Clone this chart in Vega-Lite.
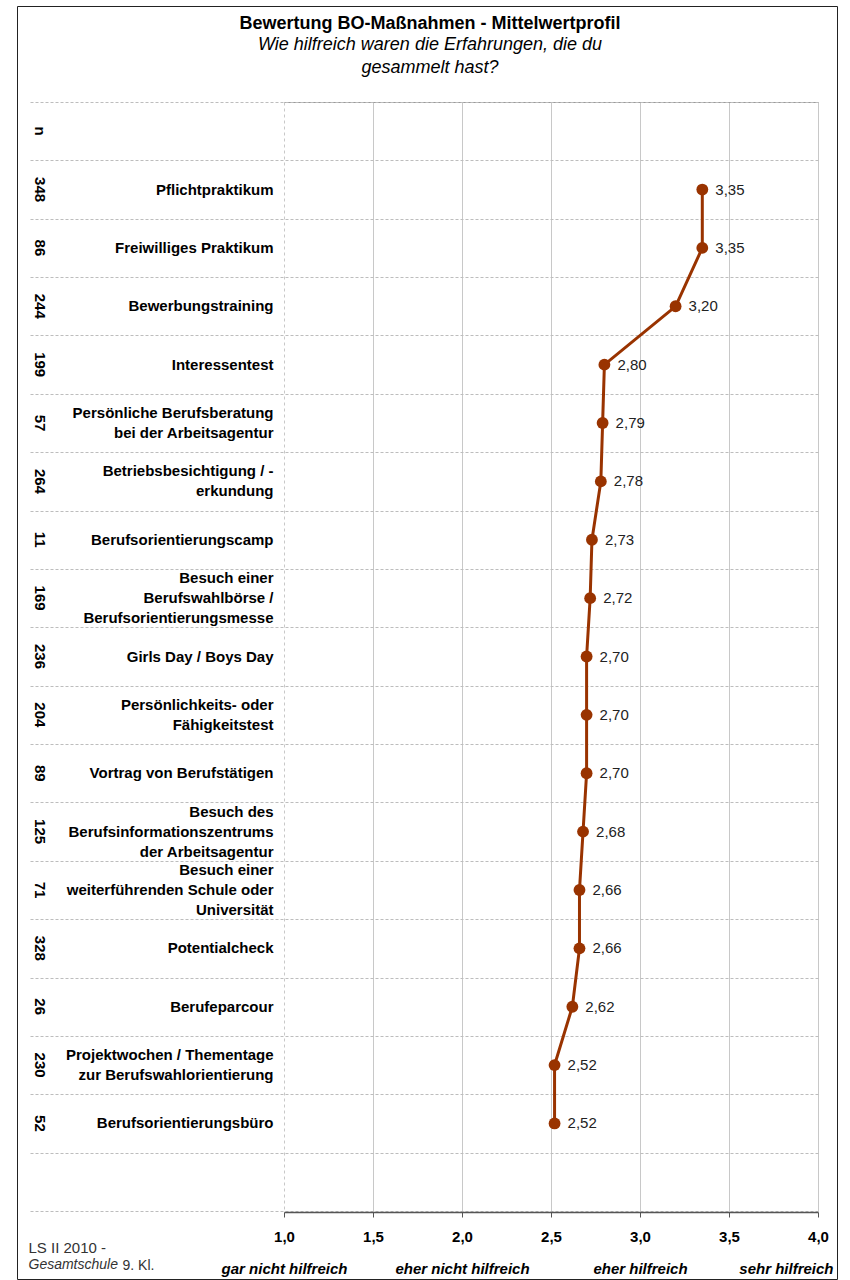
{
  "$schema": "https://vega.github.io/schema/vega-lite/v6.json",
  "width": 820,
  "height": 1273,
  "autosize": {"type": "none"},
  "padding": {"left": 17, "top": 6, "right": 13, "bottom": 1},
  "background": "white",
  "config": {
    "font": "Liberation Sans",
    "view": {"stroke": "#222222", "strokeWidth": 1}
  },
  "title": {
    "text": "Bewertung BO-Maßnahmen - Mittelwertprofil",
    "subtitle": ["Wie hilfreich waren die Erfahrungen, die du", "gesammelt hast?"],
    "anchor": "middle",
    "font": "Liberation Sans",
    "fontSize": 18,
    "fontWeight": "bold",
    "color": "black",
    "subtitleFont": "Liberation Sans",
    "subtitleFontSize": 18,
    "subtitleFontStyle": "italic",
    "subtitleColor": "black",
    "subtitleLineHeight": 23,
    "subtitlePadding": 3,
    "offset": -71,
    "dx": 3
  },
  "data": {
    "values": [
      {"n": 348, "label": "Pflichtpraktikum", "mean": 3.35},
      {"n": 86, "label": "Freiwilliges Praktikum", "mean": 3.35},
      {"n": 244, "label": "Bewerbungstraining", "mean": 3.20},
      {"n": 199, "label": "Interessentest", "mean": 2.80},
      {"n": 57, "label": "Persönliche Berufsberatung\nbei der Arbeitsagentur", "mean": 2.79},
      {"n": 264, "label": "Betriebsbesichtigung / -\nerkundung", "mean": 2.78},
      {"n": 11, "label": "Berufsorientierungscamp", "mean": 2.73},
      {"n": 169, "label": "Besuch einer\nBerufswahlbörse /\nBerufsorientierungsmesse", "mean": 2.72},
      {"n": 236, "label": "Girls Day / Boys Day", "mean": 2.70},
      {"n": 204, "label": "Persönlichkeits- oder\nFähigkeitstest", "mean": 2.70},
      {"n": 89, "label": "Vortrag von Berufstätigen", "mean": 2.70},
      {"n": 125, "label": "Besuch des\nBerufsinformationszentrums\nder Arbeitsagentur", "mean": 2.68},
      {"n": 71, "label": "Besuch einer\nweiterführenden Schule oder\nUniversität", "mean": 2.66},
      {"n": 328, "label": "Potentialcheck", "mean": 2.66},
      {"n": 26, "label": "Berufeparcour", "mean": 2.62},
      {"n": 230, "label": "Projektwochen / Thementage\nzur Berufswahlorientierung", "mean": 2.52},
      {"n": 52, "label": "Berufsorientierungsbüro", "mean": 2.52}
    ]
  },
  "transform": [
    {"calculate": "datum.n + '|' + datum.label", "as": "key"},
    {"calculate": "replace(format(datum.mean, '.2f'), '.', ',')", "as": "meanText"}
  ],
  "layer": [
    {
      "mark": {"type": "line", "color": "#993300", "strokeWidth": 3},
      "encoding": {
        "x": {
          "field": "mean", "type": "quantitative",
          "scale": {"domain": [1, 4], "range": [267, 801], "nice": false, "zero": false},
          "axis": {
            "orient": "bottom", "offset": -67, "values": [1, 1.5, 2, 2.5, 3, 3.5, 4],
            "domain": true, "domainColor": "#555555", "domainWidth": 1.5,
            "ticks": true, "tickColor": "#555555", "tickSize": 5, "tickWidth": 1,
            "grid": false,
            "labelExpr": "replace(format(datum.value, '.1f'), '.', ',')",
            "labelFontSize": 15, "labelFontWeight": "bold", "labelColor": "black",
            "labelBaseline": "middle", "labelPadding": 19,
            "labelFlush": false, "labelOverlap": false, "labelBound": false,
            "title": "LS II 2010 -",
            "titleFontSize": 15, "titleFontWeight": "normal", "titleColor": "#333333",
            "titleAnchor": "start", "titleAlign": "left", "titleBaseline": "middle", "titleAngle": 0,
            "titleX": 11, "titleY": 35,
            "zindex": 1
          }
        },
        "y": {
          "field": "key", "type": "nominal", "sort": null, "bandPosition": 0.5,
          "scale": {
            "type": "band", "range": [96, 1205], "paddingInner": 0, "paddingOuter": 0,
            "domain": ["n|", "348|Pflichtpraktikum", "86|Freiwilliges Praktikum", "244|Bewerbungstraining", "199|Interessentest", "57|Persönliche Berufsberatung\nbei der Arbeitsagentur", "264|Betriebsbesichtigung / -\nerkundung", "11|Berufsorientierungscamp", "169|Besuch einer\nBerufswahlbörse /\nBerufsorientierungsmesse", "236|Girls Day / Boys Day", "204|Persönlichkeits- oder\nFähigkeitstest", "89|Vortrag von Berufstätigen", "125|Besuch des\nBerufsinformationszentrums\nder Arbeitsagentur", "71|Besuch einer\nweiterführenden Schule oder\nUniversität", "328|Potentialcheck", "26|Berufeparcour", "230|Projektwochen / Thementage\nzur Berufswahlorientierung", "52|Berufsorientierungsbüro", "|"]
          },
          "axis": {
            "orient": "left", "offset": -256, "domain": false, "ticks": false, "grid": false,
            "labelExpr": "split(split(datum.value, '|')[1], '\\n')",
            "labelAlign": "right", "labelBaseline": "middle", "labelPadding": 0,
            "labelFontSize": 15, "labelFontWeight": "bold", "labelColor": "black",
            "labelLineHeight": 20, "labelLimit": 500,
            "labelOffset": {
              "condition": [
                {"test": "length(split(datum.value, '\\n')) == 3", "value": -20},
                {"test": "length(split(datum.value, '\\n')) == 2", "value": -10}
              ],
              "value": 0
            },
            "labelOverlap": false, "labelBound": false, "labelFlush": false,
            "title": null, "zindex": 1
          }
        },
        "order": {"value": null}
      }
    },
    {
      "mark": {"type": "point", "filled": true, "color": "#993300", "size": 140, "opacity": 1},
      "encoding": {
        "x": {
          "field": "mean", "type": "quantitative",
          "scale": {"domain": [1, 4], "range": [267, 801], "nice": false, "zero": false},
          "axis": {
            "orient": "top", "offset": -96, "values": [1, 1.5, 2, 2.5, 3, 3.5, 4],
            "domain": true, "domainColor": "#9a9a9a", "domainWidth": 1,
            "ticks": true, "tickSize": -1109, "tickColor": "#c8c8c8", "tickWidth": 1,
            "tickDash": {"condition": {"test": "datum.value == 1", "value": [3, 3]}, "value": []},
            "labels": false, "grid": false,
            "title": "Gesamtschule",
            "titleFontSize": 14, "titleFontWeight": "normal", "titleFontStyle": "italic", "titleColor": "#333333",
            "titleAnchor": "start", "titleAlign": "left", "titleBaseline": "middle", "titleAngle": 0,
            "titleX": 11, "titleY": 1162,
            "zindex": 0
          }
        },
        "y": {
          "field": "key", "type": "nominal", "sort": null, "bandPosition": 0.5,
          "scale": {"type": "band", "range": [96, 1205], "paddingInner": 0, "paddingOuter": 0},
          "axis": {
            "orient": "left", "offset": -22, "domain": false, "ticks": false, "grid": false,
            "labelExpr": "split(datum.value, '|')[0]",
            "labelAngle": 90, "labelAlign": "center", "labelBaseline": "middle", "labelPadding": 0,
            "labelFontSize": 15, "labelFontWeight": "bold", "labelColor": "black",
            "labelOverlap": false, "labelBound": false, "labelFlush": false,
            "title": null, "zindex": 1
          }
        }
      }
    },
    {
      "mark": {"type": "text", "align": "left", "baseline": "middle", "dx": 13, "fontSize": 15, "color": "#222222"},
      "encoding": {
        "x": {
          "field": "mean", "type": "quantitative",
          "scale": {"domain": [1, 4], "range": [267, 801], "nice": false, "zero": false},
          "axis": {
            "orient": "bottom", "offset": -67, "values": [1, 2, 3, 4],
            "domain": false, "ticks": false, "grid": false,
            "labelExpr": "datum.value == 1 ? 'gar nicht hilfreich' : datum.value == 2 ? 'eher nicht hilfreich' : datum.value == 3 ? 'eher hilfreich' : 'sehr hilfreich'",
            "labelFontSize": 15, "labelFontWeight": "bold", "labelFontStyle": "italic", "labelColor": "black",
            "labelBaseline": "middle", "labelPadding": 56,
            "labelAlign": {"condition": {"test": "datum.value == 4", "value": "right"}, "value": "center"},
            "labelOffset": {"condition": {"test": "datum.value == 4", "value": 15}, "value": 0},
            "labelFlush": false, "labelOverlap": false, "labelBound": false,
            "title": "9. Kl.",
            "titleFontSize": 14, "titleFontWeight": "normal", "titleColor": "#333333",
            "titleAnchor": "start", "titleAlign": "left", "titleBaseline": "middle", "titleAngle": 0,
            "titleX": 105, "titleY": 53,
            "zindex": 1
          }
        },
        "y": {
          "field": "key", "type": "nominal", "sort": null, "bandPosition": 0.5,
          "scale": {"type": "band", "range": [96, 1205], "paddingInner": 0, "paddingOuter": 0},
          "axis": {
            "orient": "left", "offset": -801, "domain": false, "labels": false, "grid": false,
            "ticks": true, "tickBand": "extent", "tickSize": 790, "tickColor": "#bdbdbd",
            "tickDash": [3, 2], "tickWidth": 1,
            "title": null, "zindex": 0
          }
        },
        "text": {"field": "meanText", "type": "nominal"}
      }
    }
  ],
  "resolve": {"axis": {"x": "independent", "y": "independent"}}
}
